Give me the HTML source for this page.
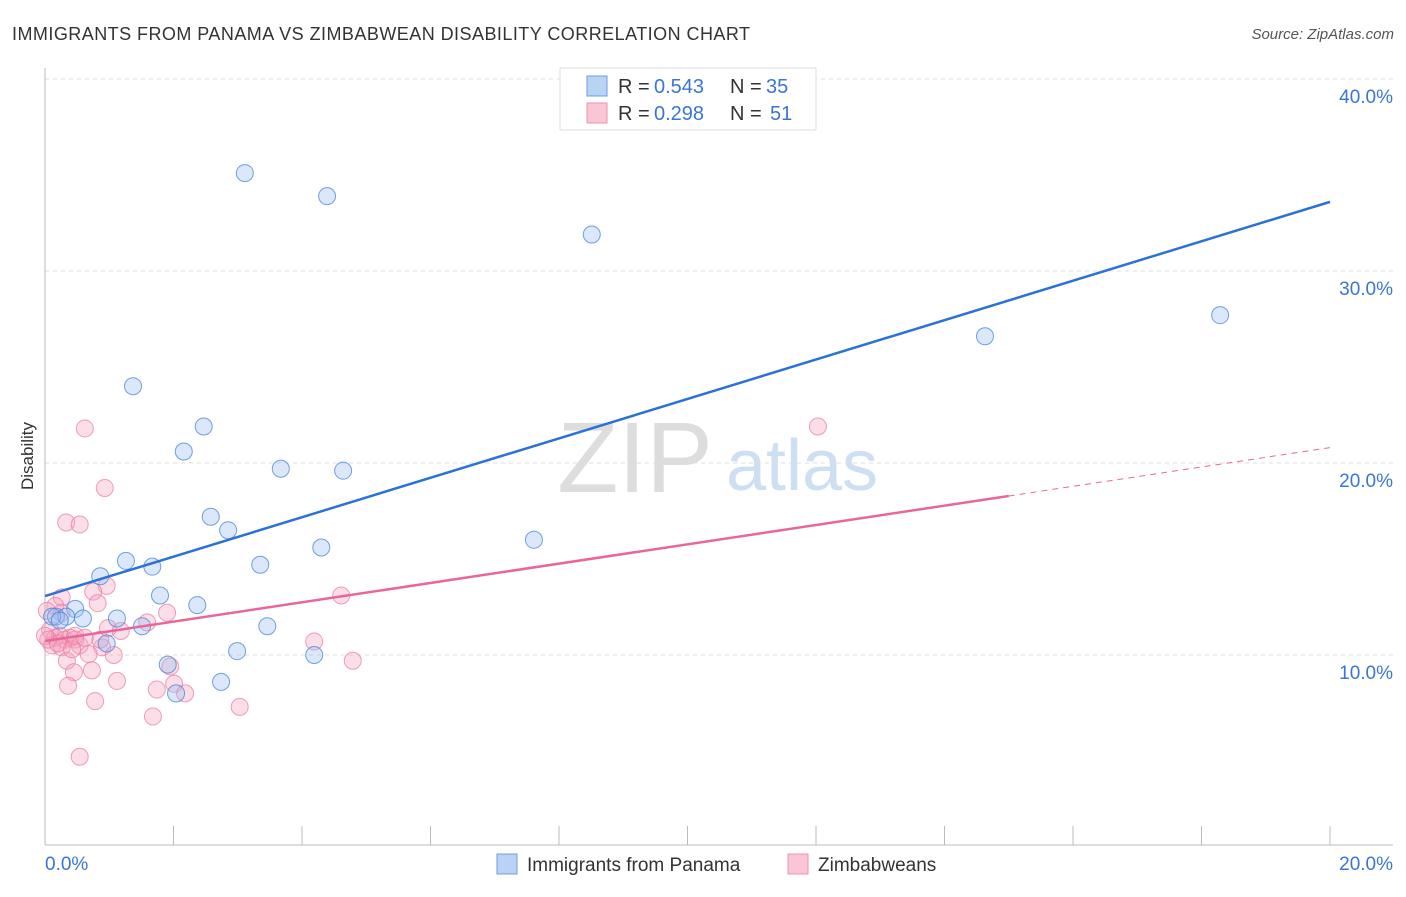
<!DOCTYPE html>
<html><head><meta charset="utf-8"><style>
body{margin:0;background:#fff;font-family:"Liberation Sans",sans-serif;}
svg text{font-family:"Liberation Sans",sans-serif;}
</style></head><body>
<svg width="1406" height="892" viewBox="0 0 1406 892">
<text x="12" y="40" font-size="18" fill="#333" textLength="738" lengthAdjust="spacing">IMMIGRANTS FROM PANAMA VS ZIMBABWEAN DISABILITY CORRELATION CHART</text>
<text x="1394" y="39" font-size="15" fill="#555" text-anchor="end" font-style="italic">Source: ZipAtlas.com</text>
<text x="33" y="456" font-size="17" fill="#333" text-anchor="middle" transform="rotate(-90 33 456)">Disability</text>
<g><text x="635" y="492" font-size="100" fill="#ddd" text-anchor="middle" font-family="Liberation Serif">ZIP</text><text x="802" y="490" font-size="72" fill="#cfdff3" text-anchor="middle">atlas</text></g>
<g id="grid"></g><g id="axes"></g><g id="marks"></g>
<g>
<rect x="560" y="68" width="256" height="62" fill="#fff" stroke="#ddd"/>
<rect x="587" y="76" width="20" height="20" fill="#b9d3f5" stroke="#6b9ee0"/>
<rect x="587" y="103" width="20" height="20" fill="#f9c6d6" stroke="#ee93b0"/>
<text x="618" y="93" font-size="20" fill="#333">R = </text><text x="654" y="93" font-size="20" fill="#3a75d6">0.543</text>
<text x="730" y="93" font-size="20" fill="#333">N = </text><text x="766" y="93" font-size="20" fill="#3a75d6">35</text>
<text x="618" y="120" font-size="20" fill="#333">R = </text><text x="654" y="120" font-size="20" fill="#3a75d6">0.298</text>
<text x="730" y="120" font-size="20" fill="#333">N = </text><text x="770" y="120" font-size="20" fill="#3a75d6">51</text>
</g>
<g>
<rect x="497" y="854" width="20" height="20" fill="#b9d3f5" stroke="#6b9ee0"/>
<text x="527" y="871" font-size="19" fill="#333">Immigrants from Panama</text>
<rect x="788" y="854" width="20" height="20" fill="#f9c6d6" stroke="#ee93b0"/>
<text x="818" y="871" font-size="19" fill="#333">Zimbabweans</text>
</g>
</svg>
<script>
const blueX=[3.11,4.39,8.51,14.63,18.29,1.37,2.47,2.16,3.67,4.64,2.58,2.85,1.26,1.67,4.30,7.61,3.35,0.86,1.79,2.37,0.47,0.17,0.33,0.59,1.12,1.51,3.46,0.96,2.99,4.19,1.91,2.74,2.04,0.11,0.23];
const blueY=[35.1,33.9,31.9,26.6,27.7,24.0,21.9,20.6,19.7,19.6,17.2,16.5,14.9,14.6,15.6,16.0,14.7,14.1,13.1,12.6,12.4,12.0,12.0,11.9,11.9,11.5,11.5,10.6,10.2,10.0,9.5,8.6,8.0,12.0,11.8];
const pinkX=[0.62,12.03,0.93,0.33,0.54,0.96,0.75,0.26,4.61,0.82,1.90,1.59,0.98,1.18,0.16,0.03,0.08,0.16,0.23,0.31,0.39,0.47,0.11,0.54,0.26,0.89,0.68,1.07,4.19,0.34,4.79,1.95,0.73,0.45,1.12,2.01,0.36,1.74,2.18,0.78,3.03,1.68,0.54,0.05,0.20,0.42,0.0,0.86,0.47,0.62,0.26];
const pinkY=[21.8,21.9,18.7,16.9,16.8,13.6,13.3,13.0,13.1,12.7,12.2,11.7,11.4,11.25,12.55,12.3,11.3,10.9,11.0,10.8,10.9,10.8,10.5,10.5,10.4,10.4,10.05,10.0,10.7,9.7,9.7,9.4,9.2,9.1,8.65,8.5,8.4,8.2,8.0,7.6,7.3,6.8,4.7,10.8,10.6,10.3,11.0,10.8,11.0,10.9,12.2];
const blueTrend=[13.07,33.6];
const pinkTrend=[10.73,20.8];
const pinkSolidEnd=15.0;
const yTicks=[10,20,30,40];
const yTickLabels=["10.0%","20.0%","30.0%","40.0%"];
const xTicks=[0,2,4,6,8,10,12,14,16,18,20];
const NS="http://www.w3.org/2000/svg";
const sx=v=>45+v/20*1285, sy=v=>847-v*19.2;
function mk(tag,attrs,parent){const e=document.createElementNS(NS,tag);for(const k in attrs)e.setAttribute(k,attrs[k]);document.getElementById(parent).appendChild(e);return e;}
yTicks.forEach((t,i)=>{
 const l=mk('line',{x1:45,x2:1393,y1:sy(t),y2:sy(t),stroke:'#ddd','stroke-dasharray':'4 4'},'grid');
 
 
 const tx=mk('text',{x:1393,y:sy(t)+24,'font-size':19,fill:'#3a75d6','text-anchor':'end'},'grid');
 tx.textContent=yTickLabels[i];
 
 
});
let a=mk('line',{x1:45,x2:45,y1:68,y2:845,stroke:'#bbb'},'axes');


a=mk('line',{x1:45,x2:1393,y1:845,y2:845,stroke:'#bbb'},'axes');


xTicks.forEach(t=>{const l=mk('line',{x1:sx(t),x2:sx(t),y1:826,y2:845,stroke:'#bbb'},'axes');
 
 });
let t0=mk('text',{x:45,y:870,'font-size':19,fill:'#3a75d6'},'axes');t0.textContent='0.0%';


let t1=mk('text',{x:1393,y:870,'font-size':19,fill:'#3a75d6','text-anchor':'end'},'axes');t1.textContent='20.0%';


pinkX.forEach((x,i)=>{const c=mk('circle',{cx:sx(x),cy:sy(pinkY[i]),r:8.5,fill:'rgba(245,160,190,0.35)',stroke:'rgba(232,120,160,0.7)','stroke-width':1},'marks');
 
 });
blueX.forEach((x,i)=>{const c=mk('circle',{cx:sx(x),cy:sy(blueY[i]),r:8.5,fill:'rgba(150,190,240,0.35)',stroke:'rgba(70,130,215,0.75)','stroke-width':1},'marks');
 
 });
const pAt=x=>pinkTrend[0]+(pinkTrend[1]-pinkTrend[0])*x/20;
let tl=mk('line',{x1:sx(0),y1:sy(blueTrend[0]),x2:sx(20),y2:sy(blueTrend[1]),stroke:'#2b72d6','stroke-width':2.5},'marks');


tl=mk('line',{x1:sx(0),y1:sy(pAt(0)),x2:sx(pinkSolidEnd),y2:sy(pAt(pinkSolidEnd)),stroke:'#e8679a','stroke-width':2.5},'marks');


tl=mk('line',{x1:sx(pinkSolidEnd),y1:sy(pAt(pinkSolidEnd)),x2:sx(20),y2:sy(pAt(20)),stroke:'#e8679a','stroke-width':1,'stroke-dasharray':'6 5'},'marks');


</script>
</body></html>
